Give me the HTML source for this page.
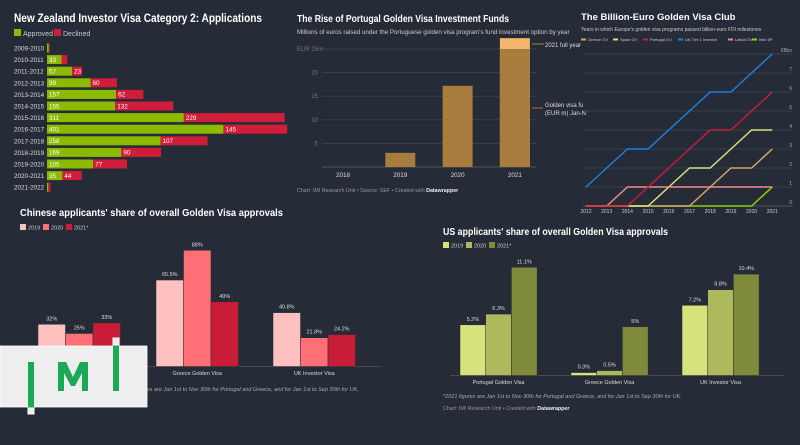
<!DOCTYPE html>
<html><head><meta charset="utf-8">
<style>
html,body{margin:0;padding:0;background:#252b37;}
svg{display:block;font-family:"Liberation Sans",sans-serif;}
</style></head>
<body>
<svg id="s" width="800" height="445" viewBox="0 0 800 445" xmlns="http://www.w3.org/2000/svg">
<rect width="800" height="445" fill="#252b37"/>
<g id="nz">
<text x="14" y="22" fill="#fff" font-size="12" font-weight="bold" textLength="248" lengthAdjust="spacingAndGlyphs">New Zealand Investor Visa Category 2: Applications</text>
<rect x="14" y="29" width="7" height="7" fill="#8cba00"/><text x="23" y="36" fill="#ccc" font-size="7">Approved</text>
<rect x="54" y="29" width="7" height="7" fill="#d01e3a"/><text x="63" y="36" fill="#ccc" font-size="7">Declined</text>
</g>
<g id="pt">
<text x="297" y="22" fill="#fff" font-size="10" font-weight="bold" textLength="212" lengthAdjust="spacingAndGlyphs">The Rise of Portugal Golden Visa Investment Funds</text>
<text x="297" y="34" fill="#ccc" font-size="6.2">Millions of euros raised under the Portuguese golden visa program's fund investment option by year</text>
<text x="297" y="192" fill="#999" font-size="5.3">Chart: IMI Research Unit • Source: SEF • Created with <tspan fill="#eee" font-weight="bold">Datawrapper</tspan></text>
<line x1="532" y1="44" x2="544" y2="44" stroke="#a87c3c"/><text x="545" y="47" fill="#ddd" font-size="6">2021 full year</text>
<line x1="532" y1="108" x2="543" y2="108" stroke="#a87c3c"/><text x="545" y="107" fill="#ddd" font-size="6">Golden visa fu</text><text x="545" y="115" fill="#ddd" font-size="6">(EUR m) Jan-N</text>
</g>
<g id="ln">
<text x="581" y="20" fill="#fff" font-size="9.5" font-weight="bold">The Billion-Euro Golden Visa Club</text>
<text x="581" y="31" fill="#ccc" font-size="5">Years in which Europe's golden visa programs passed billion-euro FDI milestones</text>
</g>
<g id="cn">
<text x="20" y="216" fill="#fff" font-size="10.5" font-weight="bold" textLength="263" lengthAdjust="spacingAndGlyphs">Chinese applicants' share of overall Golden Visa approvals</text>
<text x="120" y="391" fill="#aaa" font-size="5.5" font-style="italic">*2021 figures are Jan 1st to Nov 30th for Portugal and Greece, and for Jan 1st to Sep 30th for UK.</text>
</g>
<g id="us">
<text x="443" y="235" fill="#fff" font-size="10" font-weight="bold" textLength="225" lengthAdjust="spacingAndGlyphs">US applicants' share of overall Golden Visa approvals</text>
<text x="443" y="398" fill="#aaa" font-size="5.5" font-style="italic">*2021 figures are Jan 1st to Nov 30th for Portugal and Greece, and for Jan 1st to Sep 30th for UK.</text>
<text x="443" y="410" fill="#999" font-size="5.3">Chart: IMI Research Unit • Created with <tspan fill="#eee" font-weight="bold">Datawrapper</tspan></text>
</g>
<g id="logo"></g>
</svg>
<script>
const NS="http://www.w3.org/2000/svg";
function mk(p,tag,a){const e=document.createElementNS(NS,tag);for(const k in a)e.setAttribute(k,a[k]);p.appendChild(e);return e;}
function tx(p,x,y,s,a){const e=mk(p,'text',Object.assign({x:x,y:y},a));e.textContent=s;return e;}

// NZ data
const nzYears=["2009-2010","2010-2011","2011-2012","2012-2013","2013-2014","2014-2015","2015-2016","2016-2017","2017-2018","2018-2019","2019-2020","2020-2021","2021-2022"];
const nzApproved=[4,33,57,99,157,155,311,401,258,169,105,35,3];
const nzDeclined=[2,13,23,60,62,132,229,145,107,90,77,44,5];
const nzShowLabel=[false,true,true,true,true,true,true,true,true,true,true,true,false];
// Portugal data
const ptYears=["2018","2019","2020","2021"];
const ptJanNov=[0,3,17.2,25];
const ptFullYear=[0,0,0,27.3];
const ptTicks=[5,10,15,20,25];
// line chart data
const lnYears=[2012,2013,2014,2015,2016,2017,2018,2019,2020,2021];
const lnNames=["Greece GV","Spain GV","Portugal GV","UK Tier 1 Investor","Latvia GV","Irish IIP"];
const lnGreece=[0,0,0,0,0,0,1,2,2,3];
const lnSpain=[0,0,0,0,1,2,2,3,4,4];
const lnPortugal=[0,0,0,1,2,3,4,4,5,6];
const lnUK=[1,2,3,3,4,5,6,6,7,8];
const lnLatvia=[0,0,1,1,1,1,1,1,1,1];
const lnIrish=[0,0,0,0,0,0,0,0,0,1];
const lnTicks=[0,1,2,3,4,5,6,7,8];
// Chinese share
const shareCats=["Portugal Golden Visa","Greece Golden Visa","UK Investor Visa"];
const shareYears=["2019","2020","2021*"];
const cn2019=[32,65.5,40.8],cn2020=[25,88,21.8],cn2021=[33,49,24.2];
const cnLabels=[["32%","25%","33%"],["65.5%","88%","49%"],["40.8%","21.8%","24.2%"]];
// US share
const us2019=[5.2,0.3,7.2],us2020=[6.3,0.5,8.8],us2021=[11.1,5,10.4];
const usLabels=[["5.2%","6.3%","11.1%"],["0.3%","0.5%","5%"],["7.2%","8.8%","10.4%"]];

// ---- NZ
(function(){const g=document.getElementById('nz');const x0=47,k=0.44,y0=48,step=11.6,h=9;
nzYears.forEach((yr,i)=>{const yc=y0+i*step;
 const t=tx(g,14,yc+2.5,yr,{fill:'#ddd','font-size':6.3});
 
 
 const wa=nzApproved[i]*k,wd=nzDeclined[i]*k;
 const a=mk(g,'rect',{x:x0,y:yc-h/2,width:wa,height:h,fill:'#8cba00'});
 
 
 const d=mk(g,'rect',{x:x0+wa,y:yc-h/2,width:wd,height:h,fill:'#d01e3a'});
 
 
 if(nzShowLabel[i]){tx(g,x0+2,yc+2.3,String(nzApproved[i]),{fill:'#fff','font-size':6.3});
  if(nzDeclined[i]>20)tx(g,x0+wa+2,yc+2.3,String(nzDeclined[i]),{fill:'#fff','font-size':6.3});}
});})();

// ---- Portugal
(function(){const g=document.getElementById('pt');const base=167,k=4.72,x1=322,x2=536,w=30;
const xs=i=>343+i*57.3;
ptTicks.forEach(v=>{const y=base-v*k;mk(g,'line',{x1:x1,x2:x2,y1:y,y2:y,stroke:'#3d4452','stroke-width':0.8});
 tx(g,v===25?297:318,y+2,v===25?'EUR 25m':String(v),{fill:'#777','font-size':6,'text-anchor':v===25?'start':'end'});});
mk(g,'line',{x1:x1,x2:x2,y1:base,y2:base,stroke:'#666','stroke-width':0.8});
ptYears.forEach((yr,i)=>{const cx=xs(i);
 if(ptFullYear[i]>0){const r=mk(g,'rect',{x:cx-w/2,y:base-ptFullYear[i]*k,width:w,height:ptFullYear[i]*k,fill:'#f3b66c'});
  
  }
 if(ptJanNov[i]>0){const r=mk(g,'rect',{x:cx-w/2,y:base-ptJanNov[i]*k,width:w,height:ptJanNov[i]*k,fill:'#a87c3c'});
  
  }
 tx(g,cx,177,yr,{fill:'#ddd','font-size':6.3,'text-anchor':'middle'});});})();

// ---- Line chart
(function(){const g=document.getElementById('ln');const x0=586,dx=20.7,base=206,k=19;
const cols=['#d4a46a','#d4e27c','#c91c36','#1a7fe0','#f08a8a','#8cd400'];
const series=[lnGreece,lnSpain,lnPortugal,lnUK,lnLatvia,lnIrish];
const legX=[581,613,643,678,728,752];
lnNames.forEach((n,i)=>{const lx=legX[i];mk(g,'rect',{x:lx,y:38.5,width:5,height:2,fill:cols[i]});const t=tx(g,lx+7,41,n,{fill:'#ccc','font-size':4});});
lnTicks.forEach(v=>{const y=base-v*k;mk(g,'line',{x1:583,x2:793,y1:y,y2:y,stroke:v===0?'#666':'#3d4452','stroke-width':0.8});
 tx(g,792,y-2,v===8?'€8bn':String(v),{fill:'#aaa','font-size':5,'text-anchor':'end'});});
lnYears.forEach((yr,i)=>tx(g,x0+i*dx,213,String(yr),{fill:'#ccc','font-size':5,'text-anchor':'middle'}));
const order=[5,0,1,4,2,3];
order.forEach(si=>{const d=series[si].map((v,i)=>(i?'L':'M')+(x0+i*dx)+','+(base-v*k)).join(' ');
 const p=mk(g,'path',{d:d,fill:'none',stroke:cols[si],'stroke-width':1.5});
 
 });})();

// ---- grouped bars
function grouped(gid,sets,labels,cols,base,k,starts,bw,legY,legX,catY){
 const g=document.getElementById(gid);
 shareYears.forEach((y,i)=>{mk(g,'rect',{x:legX+i*23,y:legY,width:6,height:6,fill:cols[i]});const t=tx(g,legX+8+i*23,legY+5.5,y,{fill:'#ccc','font-size':5.5});});
 mk(g,'line',{x1:starts[0]-10,x2:starts[2]+3*bw+25,y1:base,y2:base,stroke:'#555','stroke-width':0.8});
 shareCats.forEach((c,ci)=>{sets.forEach((s,si)=>{const x=starts[ci]+si*bw,h=s[ci]*k;
  const r=mk(g,'rect',{x:x,y:base-h,width:bw,height:h,fill:cols[si],stroke:'#252b37','stroke-width':0.5});
  
  
  tx(g,x+bw/2,base-h-4,labels[ci][si],{fill:'#ddd','font-size':5.5,'text-anchor':'middle'});});
  tx(g,starts[ci]+1.5*bw,catY,c,{fill:'#ddd','font-size':5.5,'text-anchor':'middle'});});
}
grouped('cn',[cn2019,cn2020,cn2021],cnLabels,['#ffc0c0','#ff6f75','#c91c36'],366.5,1.32,[38,156,273],27.5,224,20,375);
grouped('us',[us2019,us2020,us2021],usLabels,['#d6e27c','#adb95a','#7f8a3a'],375.5,9.75,[460,571,682],25.7,242,443,384);

// ---- logo
(function(){const g=document.getElementById('logo');
mk(g,'rect',{x:0,y:346,width:147,height:61,fill:'#eeeeee',stroke:'#fff','stroke-width':0.8});
mk(g,'rect',{x:28,y:362,width:6,height:46,fill:'#1aaa55'});
mk(g,'rect',{x:28,y:408,width:6,height:6,fill:'#eee',stroke:'#fff'});
mk(g,'rect',{x:113,y:345,width:6,height:46,fill:'#1aaa55'});
mk(g,'rect',{x:113,y:338,width:6,height:7,fill:'#eee',stroke:'#fff'});
mk(g,'path',{d:'M58,391 L58,362 L66,362 L73,377 L80,362 L88,362 L88,391 L82,391 L82,373 L75,386 L71,386 L64,373 L64,391 Z',fill:'#1aaa55'});})();
</script>
</body></html>
